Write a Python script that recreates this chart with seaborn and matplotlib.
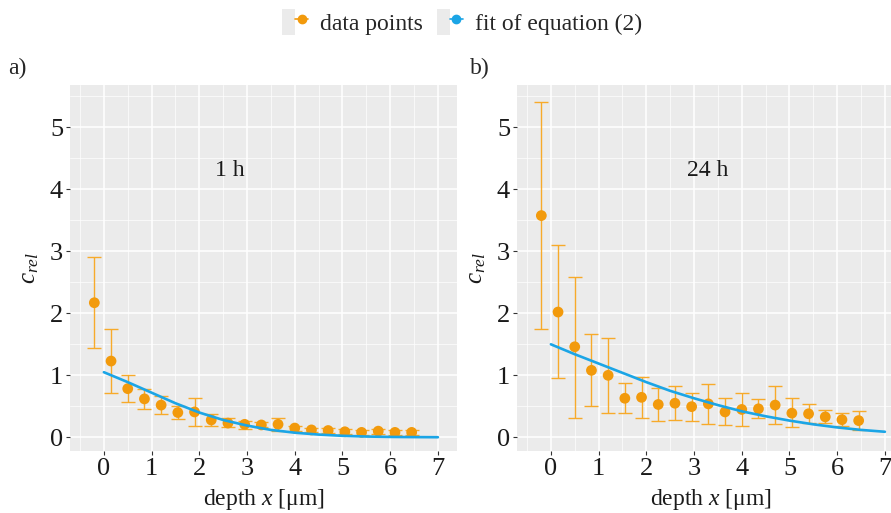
import numpy as np
import pandas as pd
import matplotlib
matplotlib.use("Agg")
import matplotlib.pyplot as plt
import seaborn as sns
from matplotlib.lines import Line2D
from matplotlib.patches import Patch
from matplotlib.legend_handler import HandlerTuple
from matplotlib.ticker import MultipleLocator

# ---------------- data ----------------
depth = [-0.2, 0.15, 0.5, 0.85, 1.2, 1.55, 1.9, 2.25, 2.6, 2.95,
         3.3, 3.65, 4.0, 4.35, 4.7, 5.05, 5.4, 5.75, 6.1, 6.45]

c_1h = [2.17, 1.23, 0.785, 0.62, 0.52, 0.40, 0.41, 0.28, 0.23, 0.21,
        0.20, 0.21, 0.15, 0.12, 0.11, 0.09, 0.08, 0.10, 0.08, 0.08]
lo_1h = [1.44, 0.72, 0.565, 0.46, 0.38, 0.29, 0.19, 0.19, 0.17, 0.13,
         0.16, 0.10, 0.11, 0.08, 0.065, 0.05, 0.045, 0.06, 0.045, 0.045]
hi_1h = [2.90, 1.75, 1.00, 0.78, 0.67, 0.50, 0.63, 0.38, 0.31, 0.26,
         0.24, 0.32, 0.19, 0.15, 0.15, 0.13, 0.12, 0.14, 0.12, 0.12]

c_24h = [3.575, 2.02, 1.46, 1.08, 1.00, 0.63, 0.645, 0.53, 0.55, 0.495,
         0.54, 0.41, 0.45, 0.46, 0.52, 0.39, 0.38, 0.33, 0.285, 0.27]
lo_24h = [1.75, 0.95, 0.32, 0.505, 0.40, 0.40, 0.31, 0.26, 0.285, 0.27,
          0.22, 0.20, 0.18, 0.31, 0.22, 0.16, 0.225, 0.23, 0.18, 0.12]
hi_24h = [5.41, 3.10, 2.59, 1.67, 1.60, 0.88, 0.98, 0.80, 0.83, 0.72,
          0.86, 0.63, 0.715, 0.62, 0.82, 0.63, 0.54, 0.44, 0.39, 0.42]

fit_x = [0, 0.5, 1, 1.5, 2, 2.5, 3, 3.5, 4, 4.5, 5, 5.5, 6, 6.5, 7]
fit_1h = [1.05, 0.89, 0.72, 0.55, 0.40, 0.28, 0.19, 0.12, 0.075, 0.045,
          0.025, 0.013, 0.007, 0.004, 0.002]
fit_24h = [1.50, 1.34, 1.19, 1.04, 0.89, 0.75, 0.63, 0.52, 0.42, 0.34,
           0.27, 0.21, 0.16, 0.12, 0.09]

panel_titles = ["1 h", "24 h"]
panel_tags = ["a)", "b)"]
x_ticks = [0, 1, 2, 3, 4, 5, 6, 7]
y_ticks = [0, 1, 2, 3, 4, 5]

# ---------------- style ----------------
sns.set_theme(style="darkgrid")
SERIF = "Liberation Serif"
plt.rcParams["font.family"] = [SERIF, "DejaVu Serif"]
plt.rcParams["mathtext.fontset"] = "custom"
plt.rcParams["mathtext.rm"] = SERIF
plt.rcParams["mathtext.it"] = SERIF + ":italic"

PT_COL = "#F29A0C"
ERR_COL = "#F7AA2A"
FIT_COL = "#1BA5E6"
BG = "#EBEBEB"

fig = plt.figure(figsize=(8.91, 5.13), dpi=100)
W, H = 891, 513
pw, ph = 387, 366
axes = [fig.add_axes([70 / W, (H - 451) / H, pw / W, ph / H]),
        fig.add_axes([517 / W, (H - 451) / H, pw / W, ph / H])]

datasets = [(c_1h, lo_1h, hi_1h, fit_1h), (c_24h, lo_24h, hi_24h, fit_24h)]
text_x = [2.64, 3.29]

for i, (ax, (c, lo, hi, fit)) in enumerate(zip(axes, datasets)):
    df = pd.DataFrame({"depth": depth, "c": c, "lo": lo, "hi": hi})
    dfit = pd.DataFrame({"x": fit_x, "y": fit})
    ax.set_facecolor(BG)
    yerr = np.vstack([df["c"] - df["lo"], df["hi"] - df["c"]])
    ax.errorbar(df["depth"], df["c"], yerr=yerr, fmt="none", ecolor=ERR_COL,
                elinewidth=1.0, capsize=5.2, capthick=1.0, zorder=3)
    sns.scatterplot(data=df, x="depth", y="c", ax=ax, color=PT_COL, s=60,
                    edgecolor="none", zorder=4, legend=False)
    sns.lineplot(data=dfit, x="x", y="y", ax=ax, color=FIT_COL, linewidth=1.9,
                 zorder=5, legend=False)
    ax.set_xlim(-0.71, 7.40)
    ax.set_ylim(-0.22, 5.68)
    ax.set_xticks(x_ticks)
    ax.set_yticks(y_ticks)
    ax.xaxis.set_minor_locator(MultipleLocator(0.5))
    ax.yaxis.set_minor_locator(MultipleLocator(0.5))
    ax.grid(which="major", color="white", linewidth=1.1)
    ax.grid(which="minor", color="white", linewidth=0.5)
    ax.tick_params(axis="both", which="major", labelsize=19, length=3,
                   width=0.8, color="#333333", labelcolor="#1a1a1a", pad=2,
                   bottom=True, left=True)
    ax.tick_params(axis="both", which="minor", length=0)
    for sp in ax.spines.values():
        sp.set_visible(False)
    ax.set_xlabel("depth $x$ [μm]", fontsize=17, color="#1a1a1a", labelpad=5)
    ax.set_ylabel("$c_{rel}$", fontsize=18, color="#1a1a1a", labelpad=6)
    ax.text(text_x[i], 4.3, panel_titles[i], fontsize=17, ha="center",
            va="center", color="#1a1a1a")

fig.text(8 / W, 1 - 68 / H, panel_tags[0], fontsize=17, va="center", ha="left")
fig.text(470 / W, 1 - 68 / H, panel_tags[1], fontsize=17, va="center", ha="left")

h1 = (Patch(facecolor=BG, edgecolor="none"),
      Line2D([], [], color=PT_COL, marker="o", markersize=6, linewidth=1.2))
h2 = (Patch(facecolor=BG, edgecolor="none"),
      Line2D([], [], color=FIT_COL, marker="o", markersize=6, linewidth=1.2))
fig.legend([h1, h2], ["data points", "fit of equation (2)"],
           handler_map={tuple: HandlerTuple(ndivide=None, pad=0)},
           loc="center", bbox_to_anchor=(462 / W, 1 - 22 / H), ncol=2,
           frameon=False, fontsize=17, handlelength=1.1, handleheight=1.3,
           handletextpad=0.5, columnspacing=0.6)

fig.savefig("out.png", dpi=100)
